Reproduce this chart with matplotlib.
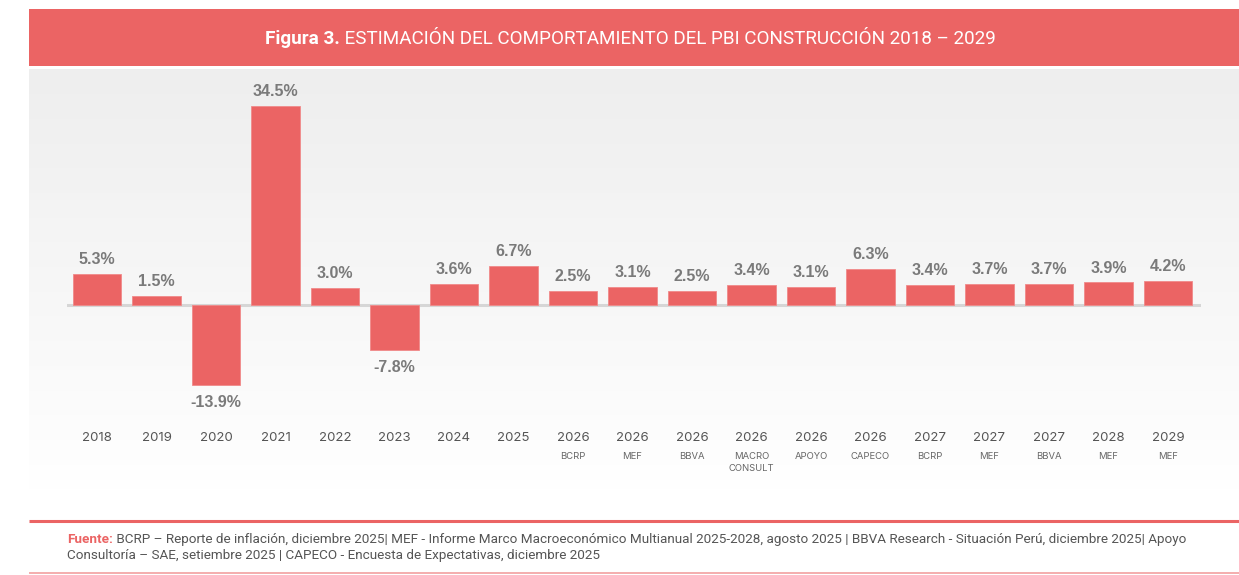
import matplotlib
matplotlib.use("Agg")
import matplotlib.pyplot as plt
import matplotlib.transforms as mtransforms
from matplotlib.patches import Rectangle
import numpy as np

# ---------------- data ----------------
years = ["2018", "2019", "2020", "2021", "2022", "2023", "2024", "2025",
         "2026", "2026", "2026", "2026", "2026", "2026",
         "2027", "2027", "2027", "2028", "2029"]
sources = ["", "", "", "", "", "", "", "",
           "BCRP", "MEF", "BBVA", "MACRO\nCONSULT", "APOYO", "CAPECO",
           "BCRP", "MEF", "BBVA", "MEF", "MEF"]
values = [5.3, 1.5, -13.9, 34.5, 3.0, -7.8, 3.6, 6.7,
          2.5, 3.1, 2.5, 3.4, 3.1, 6.3,
          3.4, 3.7, 3.7, 3.9, 4.2]

title_bold = "Figura 3."
title_rest = " ESTIMACIÓN DEL COMPORTAMIENTO DEL PBI CONSTRUCCIÓN 2018 – 2029"
source_label = "Fuente:"
source_line1 = (" BCRP – Reporte de inflación, diciembre 2025| MEF - Informe Marco Macroeconómico "
                "Multianual 2025-2028, agosto 2025 | BBVA Research - Situación Perú, diciembre 2025| Apoyo")
source_line2 = "Consultoría – SAE, setiembre 2025 | CAPECO - Encuesta de Expectativas, diciembre 2025"

# ---------------- style ----------------
RED = "#EB6464"
GRAY_TXT = "#7A7A7A"
TICK_TXT = "#555555"
W, H = 1239, 575
plt.rcParams['font.family'] = ['Roboto', 'DejaVu Sans']

fig = plt.figure(figsize=(W / 100, H / 100), dpi=100)
fig.patch.set_facecolor("white")

def fx(px):
    return px / W

def fy(py):
    return 1 - py / H

# background canvas axes (pixel coordinates)
bg = fig.add_axes([0, 0, 1, 1])
bg.set_xlim(0, W)
bg.set_ylim(H, 0)
bg.axis("off")
# header band
bg.add_patch(Rectangle((29, 9), W - 29, 57, color=RED, lw=0))
# gradient panel
grad = np.linspace(0, 1, 256).reshape(-1, 1)
cmap = matplotlib.colors.LinearSegmentedColormap.from_list("g", ["#EEEEEE", "#FFFFFF"])
bg.imshow(grad, extent=(29, W, 490, 69), cmap=cmap, aspect="auto", zorder=0)
# footer lines
bg.plot([29, W], [521, 521], color=RED, lw=2.2, solid_capstyle="butt")
bg.plot([29, W], [573, 573], color="#F2A0A0", lw=1.2, solid_capstyle="butt")

# title
t1 = bg.text(265, 39, title_bold, color="white", fontsize=13.6, fontweight="bold",
             va="center", ha="left")
bg.annotate(title_rest, xy=(1, 0), xycoords=t1, va="bottom", ha="left",
            color="white", fontsize=13.6)

# source text
FS = 9.7
s1 = bg.text(67, 543, source_label, color=RED, fontsize=FS, fontweight="bold",
             va="baseline", ha="left")
bg.annotate(source_line1, xy=(1, 0), xycoords=s1, va="bottom", ha="left",
            color="#555555", fontsize=FS)
bg.text(67, 559, source_line2, color="#555555", fontsize=FS, va="baseline", ha="left")

# ---------------- chart ----------------
left_px, right_px = 67, 1201
top_px, bot_px = 80, 420
ax = fig.add_axes([fx(left_px), fy(bot_px), fx(right_px - left_px), (bot_px - top_px) / H])
ax.patch.set_alpha(0)
x = np.arange(len(values))
ax.set_xlim(-0.504, len(values) - 1 + 0.555)
ppu = 5.78
ax.set_ylim(-(bot_px - 305) / ppu, (305 - top_px) / ppu)

ax.bar(x, values, width=0.81, color=RED, edgecolor="#F08A8A", linewidth=0.6, zorder=3)
ax.axhline(0, color="#D6D6D6", lw=2.2, zorder=2)

VFONT = ["Liberation Sans", "DejaVu Sans"]
for xi, v in zip(x, values):
    if v >= 0:
        ax.annotate(f"{v:.1f}%", (xi, v), xytext=(0, 5), textcoords="offset points",
                    ha="center", va="bottom", fontsize=11.5, fontweight="bold",
                    color=GRAY_TXT, family=VFONT)
    else:
        ax.annotate(f"{v:.1f}%", (xi, v), xytext=(0, -7), textcoords="offset points",
                    ha="center", va="top", fontsize=11.5, fontweight="bold",
                    color=GRAY_TXT, family=VFONT)

trans = mtransforms.blended_transform_factory(ax.transData, fig.transFigure)
for xi, yr, src in zip(x, years, sources):
    fig.text(xi, fy(438), yr, transform=trans, ha="center", va="center",
             fontsize=9.5, color=TICK_TXT, family=["Inter", "DejaVu Sans"])
    if src:
        fig.text(xi, fy(452), src, transform=trans, ha="center", va="top",
                 fontsize=6.8, color="#666666", linespacing=1.45,
                 family=["Inter", "DejaVu Sans"])

ax.axis("off")

fig.savefig("out.png", dpi=100, facecolor="white")
